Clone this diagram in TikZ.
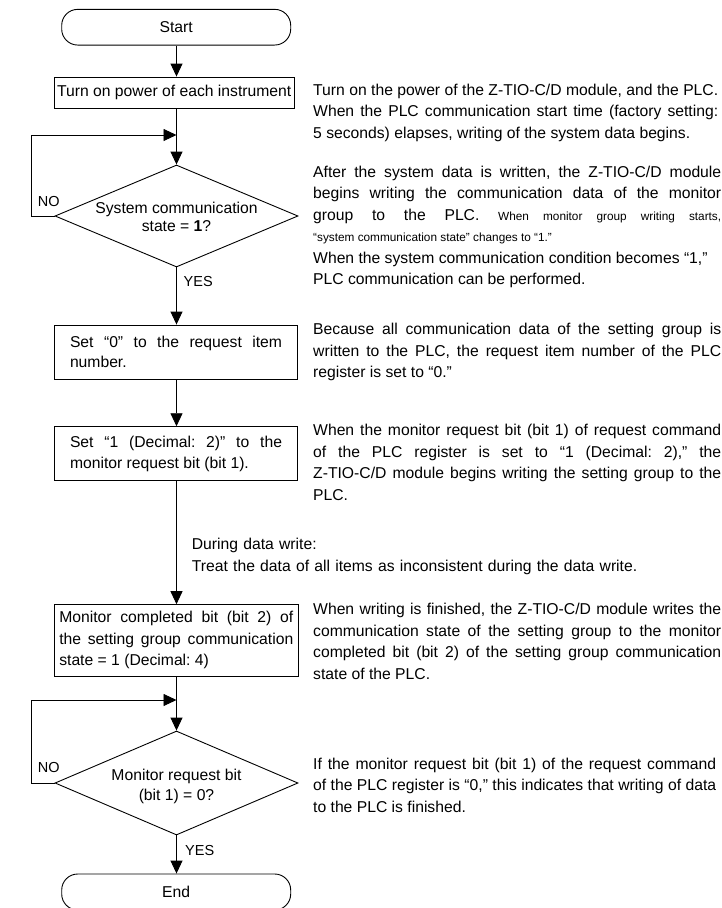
\documentclass[tikz,border=0pt]{standalone}
\usepackage{fontspec}
\setmainfont{Liberation Sans}
\usetikzlibrary{arrows.meta,shapes.geometric}
\frenchspacing
\begin{document}
\begin{tikzpicture}[x=1pt,y=-1pt,
  line/.style={line width=0.9pt},
  arr/.style={line width=0.9pt,-{Triangle[length=13pt,width=12pt]}},
  boxs/.style={draw,line width=0.9pt,inner sep=0pt,font=\fontsize{15.7}{20.5}\selectfont\frenchspacing},
  term/.style={draw,line width=0.9pt,rounded corners=16pt,minimum width=229pt,minimum height=35.7pt,inner sep=0pt,font=\fontsize{15.7}{19}\selectfont},
  dia/.style={draw,diamond,line width=0.9pt,inner sep=0pt,minimum width=243pt,minimum height=102pt},
  dtext/.style={inner sep=0pt,align=center},
  lbl/.style={inner sep=0pt,font=\fontsize{14.5}{17}\selectfont},
  para/.style={anchor=base west,inner sep=0pt,text width=408pt,align=justify,font=\fontsize{15.7}{21.5}\selectfont\frenchspacing},
]
\useasboundingbox (0,0) rectangle (722,908);
\coordinate (mx) at (176.5,0);

% flow nodes
\node[term] (start) at (176.2,27.2) {Start};
\node[boxs,minimum width=239.7pt,minimum height=31pt] (power) at (174.2,92.5) {Turn on power of each instrument};
\node[dia] (d1) at (176.5,216) {};
\node[dtext,font=\fontsize{15.7}{18}\selectfont] (d1t) at (176.5,216.7) {System communication\\state = \textbf{1}?};
\node[boxs,text width=212pt,align=justify,inner xsep=15.7pt,minimum height=54pt] (set0) at (176,352) {Set “0” to the request item\linebreak number.};
\node[boxs,text width=212pt,align=justify,inner xsep=15.7pt,minimum height=54pt] (set1) at (176,453.7) {Set “1 (Decimal: 2)” to the\linebreak monitor request bit (bit 1).};
\node[boxs,text width=234pt,align=justify,inner xsep=5.1pt,minimum height=71.3pt,font=\fontsize{15.7}{21.5}\selectfont] (mon) at (176.3,640.3) {Monitor completed bit (bit 2) of\linebreak the setting group communication\linebreak state = 1 (Decimal: 4)};
\node[dia,minimum height=104pt] (d2) at (176.5,783) {};
\node[dtext,font=\fontsize{15.7}{20}\selectfont] (d2t) at (176.5,786.7) {Monitor request bit\\(bit 1) = 0?};
\node[term,minimum height=36pt] (end) at (176.2,892) {End};

% labels
\node[lbl] (no1) at (48.8,202) {NO};
\node[lbl,anchor=west] (yes1) at (183.5,281.7) {YES};
\node[lbl] (no2) at (48.8,767) {NO};
\node[lbl,anchor=west] (yes2) at (185,850) {YES};

% connectors
\coordinate (l1) at (31.7,135);
\coordinate (l2) at (31.7,700);
\draw[arr] (start.south -| mx) -- (power.north -| mx);
\draw[arr] (power.south -| mx) -- (d1.north);
\draw[arr] (d1.west) -| (l1) -- (l1 -| mx);
\draw[arr] (d1.south) -- (set0.north -| mx);
\draw[arr] (set0.south -| mx) -- (set1.north -| mx);
\draw[arr] (set1.south -| mx) -- (mon.north -| mx);
\draw[arr] (mon.south -| mx) -- (d2.north);
\draw[arr] (d2.west) -| (l2) -- (l2 -| mx);
\draw[arr] (d2.south) -- (end.north -| mx);

% explanations
\node[para,text width=405pt] (p1) at (313,95) {Turn on the power of the Z-TIO-C/D module, and the PLC.\linebreak When the PLC communication start time (factory setting:\linebreak 5 seconds) elapses, writing of the system data begins.};
\node[para] (p2) at (313,177.3) {After the system data is written, the Z-TIO-C/D module\linebreak begins writing the communication data of the monitor\linebreak group to the PLC. {\fontsize{11.8}{21.5}\selectfont When monitor group writing starts,}\linebreak {\fontsize{11.8}{21.5}\selectfont “system communication state” changes to “1.”}\\When the system communication condition becomes “1,”\\PLC communication can be performed.};
\node[para] (p3) at (313,334.5) {Because all communication data of the setting group is\linebreak written to the PLC, the request item number of the PLC\linebreak register is set to “0.”};
\node[para] (p4) at (313,435.5) {When the monitor request bit (bit 1) of request command\linebreak of the PLC register is set to “1 (Decimal: 2),” the\linebreak Z-TIO-C/D module begins writing the setting group to the\linebreak PLC.};
\node[para,text width=470pt,align=left] (dw) at (191.7,549.5) {During data write:\\Treat the data of all items as inconsistent during the data write.};
\node[para] (p5) at (313,614.5) {When writing is finished, the Z-TIO-C/D module writes the\linebreak communication state of the setting group to the monitor\linebreak completed bit (bit 2) of the setting group communication\linebreak state of the PLC.};
\node[para,text width=403pt] (p6) at (313,769) {If the monitor request bit (bit 1) of the request command\linebreak of the PLC register is “0,” this indicates that writing of data\linebreak to the PLC is finished.};
\end{tikzpicture}
\end{document}
